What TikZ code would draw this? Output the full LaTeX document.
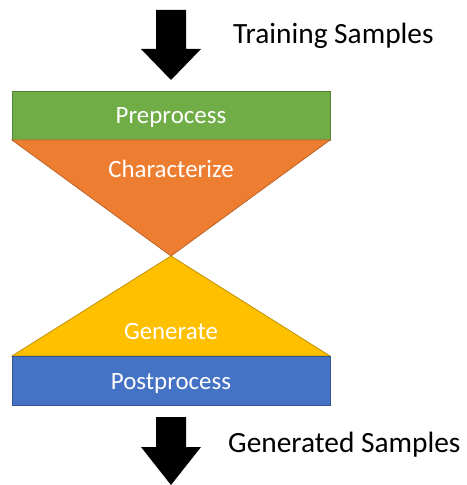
\documentclass[tikz,border=0pt]{standalone}
\usepackage{fontspec}
\setmainfont{Carlito}
\usetikzlibrary{positioning}
\definecolor{prepgreen}{HTML}{70AD47}
\definecolor{charorange}{HTML}{ED7D31}
\definecolor{genyellow}{HTML}{FFC000}
\definecolor{postblue}{HTML}{4472C4}
\tikzset{
  stage/.style     = {text=white, inner sep=0pt, anchor=base,
                      font=\fontsize{25}{30}\selectfont},
  caption/.style   = {inner sep=0pt, anchor=base west,
                      font=\fontsize{29.5}{35}\selectfont},
  blockarrow/.style = {fill=black},
  edge/.style      = {line width=0.8pt, line join=miter},
}

\begin{document}
\begin{tikzpicture}[x=1bp,y=-1bp]
  \useasboundingbox (0,0) rectangle (467,485);
  % input
  \fill[blockarrow] (156,10) -- (186,10) -- (186,49) -- (201,49) -- (171,80)
      -- (141,49) -- (156,49) -- cycle;
  \node[caption] (train) at (233,44) {Training Samples};
  % hourglass
  \draw[edge, draw=prepgreen!75!black, fill=prepgreen] (12,91) rectangle (330,140);
  \draw[edge, draw=charorange!80!black, fill=charorange] (12,140) -- (330,140) -- (171,256) -- cycle;
  \draw[edge, draw=genyellow!75!black, fill=genyellow] (171,256) -- (330,356) -- (12,356) -- cycle;
  \draw[edge, draw=postblue!75!black, fill=postblue] (12,356) rectangle (330,405);
  \node[stage] (prep) at (171,124) {Preprocess};
  \node[stage] (char) at (171,178) {Characterize};
  \node[stage] (gen)  at (171,339) {Generate};
  \node[stage] (post) at (171,389) {Postprocess};
  % output
  \fill[blockarrow] (156,417) -- (186,417) -- (186,447) -- (201,447) -- (171,485)
      -- (141,447) -- (156,447) -- cycle;
  \node[caption] (out) at (228,452) {Generated Samples};
\end{tikzpicture}
\end{document}
